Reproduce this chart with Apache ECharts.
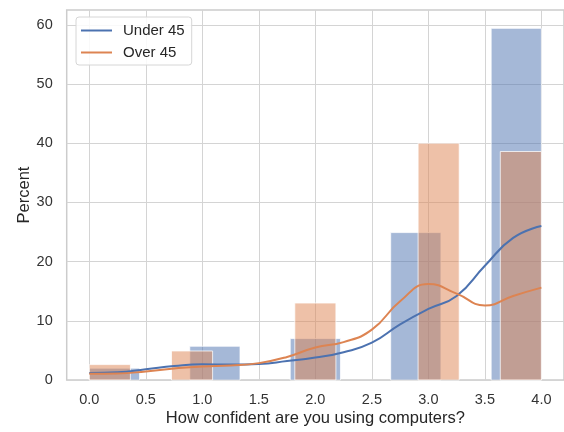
<!DOCTYPE html>
<html>
<head>
<meta charset="utf-8">
<script src="https://cdn.jsdelivr.net/npm/echarts@6/dist/echarts.min.js"></script>
<style>
html,body{margin:0;padding:0;background:#fff;}
#chart{width:564px;height:432px;}
</style>
</head>
<body>
<div id="chart"></div>
<script>
// ---- data ----
const scoreValues = [0, 1, 2, 3, 4];
const under45Percent = [2.0, 5.7, 7.0, 24.9, 59.4];
const over45Percent = [2.6, 4.9, 13.0, 40.0, 38.6];
const under45BinCount = 9;
const over45BinCount = 11;
const kdeX = [0, 0.25, 0.5, 0.75, 1.0, 1.25, 1.5, 1.75, 2.0, 2.25, 2.5, 2.75, 3.0, 3.25, 3.5, 3.75, 4.0];
const under45Kde = [1.2, 1.3, 1.8, 2.35, 2.65, 2.6, 2.7, 3.2, 3.8, 4.7, 6.3, 9.4, 12.0, 14.2, 19.3, 24.0, 26.0];
const over45Kde = [1.05, 1.1, 1.45, 1.95, 2.3, 2.45, 2.85, 3.9, 5.5, 6.4, 8.5, 13.3, 16.2, 14.6, 12.6, 14.2, 15.6];
const xTicks = [0, 0.5, 1.0, 1.5, 2.0, 2.5, 3.0, 3.5, 4.0];
const yTicks = [0, 10, 20, 30, 40, 50, 60];
const seriesNames = ['Under 45', 'Over 45'];

const dataMin = 0, dataMax = 4;
function histData(values, percents, nBins) {
  const w = (dataMax - dataMin) / nBins;
  return values.map((v, k) => {
    let i = Math.floor((v - dataMin) / w + 1e-9);
    if (i >= nBins) i = nBins - 1;
    return [dataMin + i * w, dataMin + (i + 1) * w, percents[k]];
  });
}
function makeRender(fill) {
  return function (params, api) {
    const p0 = api.coord([api.value(0), api.value(2)]);
    const p1 = api.coord([api.value(1), 0]);
    return {
      type: 'rect',
      shape: { x: p0[0], y: p0[1], width: p1[0] - p0[0], height: p1[1] - p0[1] },
      style: { fill: fill, stroke: 'rgba(255,255,255,0.75)', lineWidth: 1 }
    };
  };
}
const blue = '#4C72B0', orange = '#DD8452';
const font = "'Liberation Sans', Arial, sans-serif";

const chart = echarts.init(document.getElementById('chart'), null, { renderer: 'canvas' });
chart.setOption({
  animation: false,
  backgroundColor: '#ffffff',
  textStyle: { fontFamily: font },
  grid: { left: 66.7, right: 0, top: 10, bottom: 51.5, show: true, borderColor: '#cccccc', borderWidth: 1.5, containLabel: false },
  legend: {
    data: seriesNames,
    orient: 'vertical',
    left: 76, top: 17,
    padding: [6, 7, 5, 5],
    itemGap: 7,
    itemWidth: 31, itemHeight: 2,
    icon: 'rect',
    backgroundColor: 'rgba(255,255,255,0.85)',
    borderColor: '#d6d6d6', borderWidth: 1, borderRadius: 3,
    textStyle: { fontFamily: font, fontSize: 15, color: '#262626', padding: [0, 0, 0, 6] }
  },
  xAxis: {
    type: 'value', min: -0.2, max: 4.2,
    name: 'How confident are you using computers?',
    nameLocation: 'middle', nameGap: 30, nameMoveOverlap: false,
    nameTextStyle: { fontFamily: font, fontSize: 16.5, color: '#262626' },
    axisLine: { show: false },
    axisTick: { show: false, customValues: xTicks },
    axisLabel: { customValues: xTicks, margin: 12, fontSize: 14.5, color: '#333333', fontFamily: font,
      formatter: v => Number(v).toFixed(1) },
    splitLine: { show: true, lineStyle: { color: '#d4d4d4', width: 1 } }
  },
  yAxis: {
    type: 'value', min: 0, max: 62.5,
    name: 'Percent',
    nameLocation: 'middle', nameGap: 34, nameMoveOverlap: false,
    nameTextStyle: { fontFamily: font, fontSize: 16.5, color: '#262626' },
    axisLine: { show: false },
    axisTick: { show: false, customValues: yTicks },
    axisLabel: { customValues: yTicks, margin: 14, fontSize: 14.5, color: '#333333', fontFamily: font },
    splitLine: { show: true, lineStyle: { color: '#d4d4d4', width: 1 } }
  },
  series: [
    { type: 'custom', name: 'Under 45 bars', renderItem: makeRender('rgba(76,114,176,0.5)'),
      data: histData(scoreValues, under45Percent, under45BinCount), encode: { x: [0, 1], y: 2 }, z: 2 },
    { type: 'custom', name: 'Over 45 bars', renderItem: makeRender('rgba(221,132,82,0.5)'),
      data: histData(scoreValues, over45Percent, over45BinCount), encode: { x: [0, 1], y: 2 }, z: 3 },
    { type: 'line', name: 'Under 45', data: kdeX.map((x, i) => [x, under45Kde[i]]),
      smooth: 0.5, showSymbol: false, symbol: 'none', color: blue, lineStyle: { color: blue, width: 2 }, z: 4 },
    { type: 'line', name: 'Over 45', data: kdeX.map((x, i) => [x, over45Kde[i]]),
      smooth: 0.5, showSymbol: false, symbol: 'none', color: orange, lineStyle: { color: orange, width: 2 }, z: 4 }
  ]
});
</script>
</body>
</html>
